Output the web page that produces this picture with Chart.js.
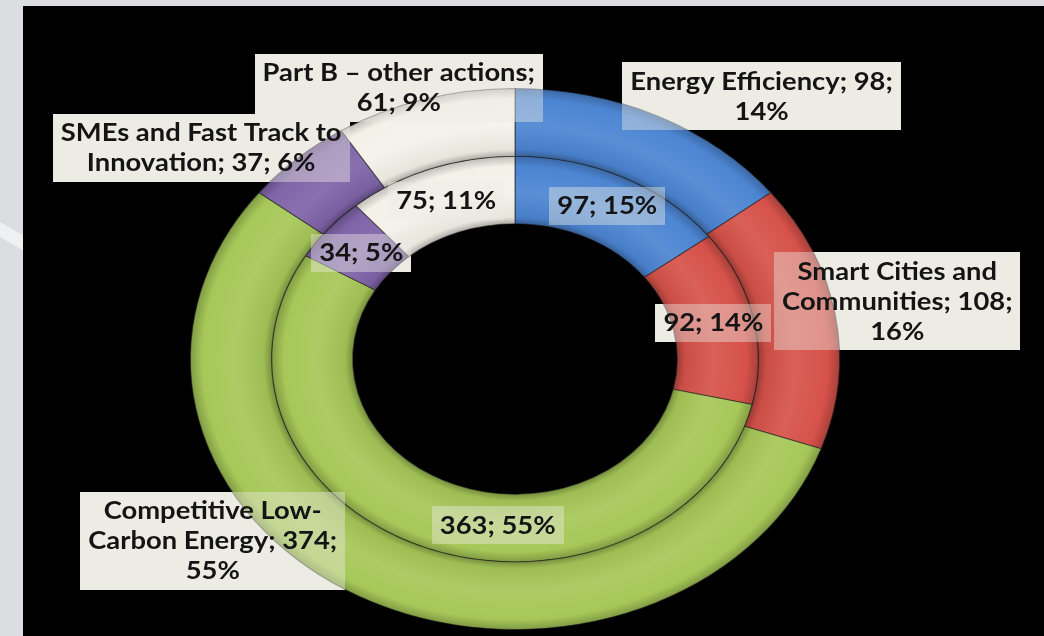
<!DOCTYPE html>
<html><head><meta charset="utf-8">
<script src="https://cdn.jsdelivr.net/npm/chart.js@4/dist/chart.umd.min.js"></script>
<style>
html,body{margin:0;padding:0;background:#dcdde1;width:1044px;height:636px;overflow:hidden;position:relative;}
#stripe{position:absolute;left:-40px;top:226px;width:90px;height:13px;background:#eff0f2;transform:rotate(30deg);}
#slide{position:absolute;left:23px;top:6px;width:1021px;height:630px;background:#000;}
#wrap{position:absolute;left:0;top:0;width:1044px;height:636px;}
</style></head><body>
<div id="stripe"></div>
<div id="slide"></div>
<div id="wrap"><canvas id="c" width="1044" height="636"></canvas></div>
<script>
// ---- data ----
const categories = ['Energy Efficiency', 'Smart Cities and Communities', 'Competitive Low-Carbon Energy', 'SMEs and Fast Track to Innovation', 'Part B – other actions'];
const outerValues = [98, 108, 374, 37, 61];
const outerPercents = ['14%', '16%', '55%', '6%', '9%'];
const innerValues = [97, 92, 363, 34, 75];
const innerPercents = ['15%', '14%', '55%', '5%', '11%'];

// ---- styles ----
const baseColors = [[76,133,210],[214,82,74],[166,200,88],[128,100,168],[243,241,232]];
const SX = 1.2;   // horizontal stretch of the slide picture (rings)
const TX = 1.14;  // horizontal stretch of the label text
const outerWrap = [280, 242, 252, 292, 280];
const outerOffsets = [[122,-50],[102,-20],[-166,-26],[-123,-36],[-37,-44]];
const innerOffsets = [[2,-2],[0,-1],[58,9],[2,2],[2,0]];
const drawOrder = [4, 0, 1, 2, 3];
const FONT = 'bold 24px Lato';
const LINE_H = 30, PAD_X = 8, PAD_Y = 4;
const BOX = '#ecece4';

function rgb(c, k){ return 'rgb(' + c.map(v => Math.max(0, Math.min(255, Math.round(k >= 1 ? v + (255 - v) * (k - 1) : v * k)))).join(',') + ')'; }

function ringFill(){
  return (context) => {
    const base = baseColors[context.dataIndex];
    const chart = context.chart, ca = chart.chartArea;
    const meta = chart.getDatasetMeta(context.datasetIndex);
    const ctrl = meta && meta.controller;
    if (!ca || !ctrl || !ctrl.outerRadius) return rgb(base, 1);
    const ro = ctrl.outerRadius, ri = ctrl.innerRadius;
    const cx = (ca.left + ca.right) / 2, cy = (ca.top + ca.bottom) / 2;
    const g = chart.ctx.createRadialGradient(cx, cy, ri, cx, cy, ro);
    g.addColorStop(0, rgb(base, 0.72));
    g.addColorStop(0.1, rgb(base, 0.95));
    g.addColorStop(0.45, rgb(base, 1.08));
    g.addColorStop(0.85, rgb(base, 1.0));
    g.addColorStop(1, rgb(base, 0.78));
    return g;
  };
}

function tw(ctx, s){ return ctx.measureText(s).width * TX; }

function wrapText(ctx, text, maxW){
  const tokens = [];
  text.split(' ').forEach(w => {
    const m = w.match(/^(\w+-)(\w.*)$/);
    if (m) { tokens.push(m[1]); tokens.push(m[2]); } else tokens.push(w);
  });
  const lines = [];
  let cur = '';
  tokens.forEach(t => {
    const cand = cur === '' ? t : (cur.endsWith('-') ? cur + t : cur + ' ' + t);
    if (cur !== '' && tw(ctx, cand) > maxW) { lines.push(cur); cur = t; }
    else cur = cand;
  });
  if (cur) lines.push(cur);
  return lines;
}

function buildLabels(chart){
  const ctx = chart.ctx;
  ctx.font = FONT;
  const out = [];
  [0, 1].forEach(di => {
    const meta = chart.getDatasetMeta(di);
    const order = di === 0 ? drawOrder : meta.data.map((_, i) => i);
    order.forEach(i => {
      const arc = meta.data[i];
      const p = arc.getProps(['x','y','startAngle','endAngle','innerRadius','outerRadius'], true);
      const a = (p.startAngle + p.endAngle) / 2;
      const r = (p.innerRadius + p.outerRadius) / 2;
      const off = di === 0 ? outerOffsets[i] : innerOffsets[i];
      const cx = p.x + SX * r * Math.cos(a) + off[0];
      const cy = p.y + r * Math.sin(a) + off[1];
      let lines;
      if (di === 0) lines = wrapText(ctx, categories[i] + '; ' + outerValues[i] + '; ' + outerPercents[i], outerWrap[i]);
      else lines = [innerValues[i] + '; ' + innerPercents[i]];
      const w = Math.max(...lines.map(l => tw(ctx, l))) + 2 * PAD_X;
      const h = lines.length * LINE_H + 2 * PAD_Y;
      out.push({cx, cy, w, h, lines});
    });
  });
  return out;
}

function drawText(ctx, L){
  ctx.fillStyle = '#141414';
  ctx.font = FONT;
  ctx.textAlign = 'center';
  ctx.textBaseline = 'middle';
  L.lines.forEach((ln, k) => {
    ctx.save();
    ctx.translate(L.cx, L.cy + (k - (L.lines.length - 1) / 2) * LINE_H + 1);
    ctx.scale(TX, 1);
    ctx.fillText(ln, 0, 0);
    ctx.restore();
  });
}

const ellipsePlugin = {
  id: 'ellipse',
  beforeDatasetsDraw(chart){
    const ctx = chart.ctx;
    chart.$labels = buildLabels(chart);
    ctx.save();
    ctx.fillStyle = BOX;
    chart.$labels.forEach(L => ctx.fillRect(Math.round(L.cx - L.w/2), Math.round(L.cy - L.h/2), Math.round(L.w), Math.round(L.h)));
    ctx.restore();
    const arc = chart.getDatasetMeta(0).data[0];
    ctx.save();
    ctx.translate(arc.x, arc.y);
    ctx.scale(SX, 1);
    ctx.translate(-arc.x, -arc.y);
  },
  afterDatasetsDraw(chart){
    const ctx = chart.ctx;
    ctx.restore();
    ctx.save();
    chart.$labels.forEach(L => {
      ctx.globalAlpha = 0.42;
      ctx.fillStyle = BOX;
      ctx.fillRect(Math.round(L.cx - L.w/2), Math.round(L.cy - L.h/2), Math.round(L.w), Math.round(L.h));
      ctx.globalAlpha = 1;
    });
    chart.$labels.forEach(L => drawText(ctx, L));
    ctx.restore();
  }
};

new Chart(document.getElementById('c'), {
  type: 'doughnut',
  data: {
    labels: categories,
    datasets: [
      { data: outerValues, backgroundColor: ringFill(), borderColor: 'rgba(30,30,30,0.55)', borderWidth: 1 },
      { data: innerValues, backgroundColor: ringFill(), borderColor: 'rgba(30,30,30,0.55)', borderWidth: 1 }
    ]
  },
  options: {
    responsive: false,
    devicePixelRatio: 1,
    animation: false,
    cutout: '50%',
    layout: { padding: { left: 0, right: 14, top: 88, bottom: 6 } },
    plugins: { legend: { display: false }, tooltip: { enabled: false } },
    events: []
  },
  plugins: [ellipsePlugin]
});
</script>
</body></html>
